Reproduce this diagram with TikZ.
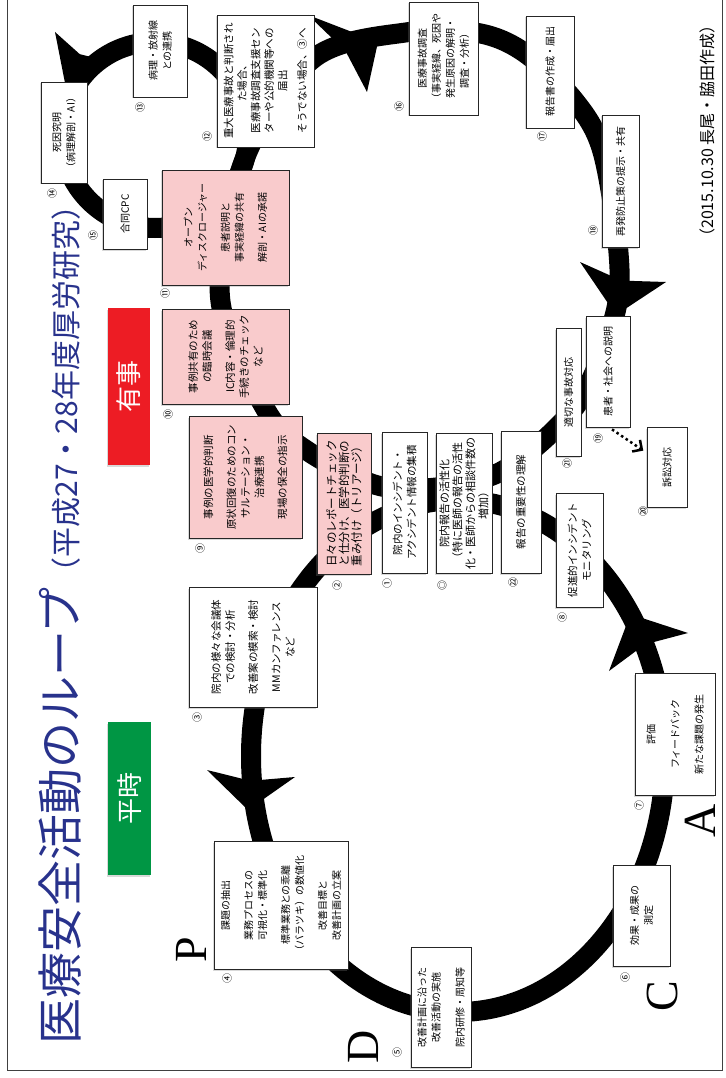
\documentclass[tikz,border=0pt]{standalone}
\usepackage{fontspec}
\setmainfont{Noto Sans CJK JP}
\newfontfamily\pdcafont{Liberation Serif}
\usetikzlibrary{arrows.meta,shadows,calc}
\definecolor{navy}{RGB}{40,50,140}
\definecolor{pinkbox}{RGB}{249,203,204}
\definecolor{redbox}{RGB}{237,28,36}
\definecolor{greenbox}{RGB}{0,150,68}
\pgfdeclarelayer{bg}
\pgfsetlayers{bg,main}
\tikzset{
  ibox/.style={draw=black!85, line width=0.8pt, fill=white, rotate=90, align=center, inner sep=1pt,
    font=\fontsize{10}{14}\selectfont,
    drop shadow={shadow xshift=-1.5pt, shadow yshift=-1.5pt, opacity=0.3}},
  pinkb/.style={ibox, fill=pinkbox},
  numlbl/.style={rotate=90, font=\fontsize{10}{10}\selectfont, inner sep=0pt},
  loopline/.style={line width=20pt, black},
  pdca/.style={rotate=90, font=\pdcafont\fontsize{46}{46}\selectfont, inner sep=0pt},
  modebox/.style={rotate=90, text=white, font=\fontsize{26}{26}\selectfont, inner sep=0pt,
    drop shadow={shadow xshift=-1.5pt, shadow yshift=-1.5pt, opacity=0.3}},
  dotarr/.style={line width=2.5pt, dash pattern=on 2.5pt off 3pt, -{Straight Barb[length=7pt,width=14pt]}},
  star/.style={fill=black}
}
\begin{document}
\begin{tikzpicture}[x=1pt,y=-1pt]
\useasboundingbox (0,0) rectangle (725,1078);
% frame
\draw[black!75, line width=0.8pt] (7,-3) -- (7,1070) -- (722,1070) -- (722,-3);

% title
\node[rotate=90, anchor=base west, inner sep=0pt, text=navy] (title) at (77,1045)
  {\fontsize{46}{46}\selectfont 医療安全活動のループ\fontsize{30}{30}\selectfont（平成27・28年度厚労研究）};
% date
\node[rotate=90, inner sep=0pt, font=\fontsize{16}{16}\selectfont] (date) at (707,131) {（2015.10.30 長尾・脇田作成）};

% mode boxes
\node[modebox, fill=redbox, minimum width=157pt, minimum height=42pt] (yuji) at (129,386.5) {有事};
\node[modebox, fill=greenbox, minimum width=153pt, minimum height=43pt] (heiji) at (129.5,798.5) {平時};

% boxes
\node[ibox, minimum width=92pt, minimum height=54pt] (n13) at (160,51) {病理・放射線\\との連携};
\node[ibox, minimum width=101pt, minimum height=46pt] (n14) at (64,132.5) {死因究明\\（病理解剖・AI）};
\node[ibox, minimum width=70pt, minimum height=44pt] (n15) at (125,214) {合同CPC};
\node[ibox, minimum width=132pt, minimum height=97pt, font=\fontsize{10.5}{13.5}\selectfont] (n12) at (265.5,81)
  {重大医療事故と判断され\\た場合、\\医療事故調査支援セン\\ターや公的機関等への\\届出\\[6pt]そうでない場合、③へ};
\node[pinkb, minimum width=115pt, minimum height=127pt] (n11) at (225.5,227.5)
  {オープン\\ディスクロージャー\\[9pt]患者説明と\\事実経緯の共有\\[9pt]解剖・AIの承諾};
\node[pinkb, minimum width=95pt, minimum height=127pt, font=\fontsize{10.5}{14}\selectfont] (n10) at (225.5,356.5)
  {事例共有のため\\の臨時会議\\[9pt]IC内容・倫理的\\手続きのチェック\\など};
\node[pinkb, minimum width=122pt, minimum height=113pt, font=\fontsize{10.5}{14}\selectfont] (n9) at (245.5,477)
  {事例の医学的判断\\[9pt]原状回復のためのコン\\サルテーション・\\治療連携\\[9pt]現場の保全の指示};
\node[ibox, minimum width=120pt, minimum height=128pt, font=\fontsize{10.5}{14}\selectfont] (n3) at (253,647)
  {院内の様々な会議体\\での検討・分析\\[9pt]改善案の模索・検討\\[9pt]MMカンファレンス\\など};
\node[pinkb, minimum width=141pt, minimum height=54pt, font=\fontsize{11.5}{12.5}\selectfont] (n2) at (344,503.5)
  {日々のレポートチェック\\と仕分け、医学的判断の\\重み付け（トリアージ）};
\node[ibox, minimum width=141pt, minimum height=45pt, font=\fontsize{10.5}{14}\selectfont] (n1) at (404.5,502.5)
  {院内のインシデント・\\アクシデント情報の集積};
\node[ibox, minimum width=140pt, minimum height=56pt, font=\fontsize{11}{13}\selectfont] (n0) at (464,503)
  {院内報告の活性化\\（特に医師の報告の活性\\化・医師からの相談件数の\\増加）};
\node[ibox, minimum width=142pt, minimum height=40pt, font=\fontsize{10.5}{14}\selectfont] (n22) at (521,502) {報告の重要性の理解};
\node[ibox, minimum width=114pt, minimum height=47pt, font=\fontsize{10.5}{14}\selectfont] (n8) at (579.5,550) {促進的インシデント\\モニタリング};
\node[ibox, minimum width=128pt, minimum height=25pt] (n21) at (568.5,392) {適切な事故対応};
\node[ibox, minimum width=111pt, minimum height=44pt] (n19) at (608,371.5) {患者・社会への説明};
\node[ibox, minimum width=80pt, minimum height=40pt] (n20) at (667,467) {訴訟対応};
\node[ibox, minimum width=113pt, minimum height=69pt] (n16) at (443.5,58.5)
  {医療事故調査\\（事実経緯、死因や\\発生原因の解明・\\調査・分析）};
\node[ibox, minimum width=112pt, minimum height=48pt] (n17) at (550,72) {報告書の作成・届出};
\node[ibox, minimum width=132pt, minimum height=37pt] (n18) at (620.5,181) {再発防止策の提示・共有};
\node[ibox, minimum width=122pt, minimum height=80pt] (n7) at (675,734) {評価\\[10pt]フィードバック\\[10pt]新たな課題の発生};
\node[ibox, minimum width=101pt, minimum height=57pt] (n6) at (641.5,915.5) {効果・成果の\\測定};
\node[ibox, minimum width=120pt, minimum height=60pt] (n5) at (441,1007) {改善計画に沿った\\改善活動の実施\\[10pt]院内研修・周知等};
\node[ibox, minimum width=128pt, minimum height=134pt] (n4) at (281,905)
  {課題の抽出\\[9pt]業務プロセスの\\可視化・標準化\\[9pt]標準業務との乖離\\（バラツキ）の数値化\\[9pt]改善目標と\\改善計画の立案};

% number labels
\node[numlbl] (l13) at (140,108) {⑬};
\node[numlbl] (l14) at (52,193) {⑭};
\node[numlbl] (l15) at (93,235) {⑮};
\node[numlbl] (l12) at (207,137) {⑫};
\node[numlbl] (l11) at (165,293) {⑪};
\node[numlbl] (l10) at (168,414) {⑩};
\node[numlbl] (l9) at (200,548) {⑨};
\node[numlbl] (l3) at (197,717) {③};
\node[numlbl] (l2) at (337,585) {②};
\node[numlbl] (l1) at (387,583) {①};
\node[numlbl] (l0) at (442,585) {◎};
\node[numlbl] (l22) at (513,582) {㉒};
\node[numlbl] (l8) at (562,617) {⑧};
\node[numlbl] (l21) at (567,463) {㉑};
\node[numlbl] (l19) at (598,438) {⑲};
\node[numlbl] (l20) at (643,511) {⑳};
\node[numlbl] (l16) at (399,107) {⑯};
\node[numlbl] (l17) at (542,137) {⑰};
\node[numlbl] (l18) at (593,230) {⑱};
\node[numlbl] (l7) at (639,805) {⑦};
\node[numlbl] (l6) at (625,977) {⑥};
\node[numlbl] (l5) at (397,1052) {⑤};
\node[numlbl] (l4) at (227,978) {④};

% PDCA letters
\node[pdca] (lp) at (191,950) {P};
\node[pdca] (ld) at (363,1047) {D};
\node[pdca] (lc) at (662,996) {C};
\node[pdca] (la) at (700,821) {A};

% dotted arrow
\draw[dotarr, shorten >=4pt] ($(n19.west)+(4,2)$) -- ($(n20.north east)!0.65!(n20.north)$);

% loops and arrowheads
\begin{pgfonlayer}{bg}
\coordinate (bc) at (458,756);
\draw[loopline] (bc) ellipse [x radius=207pt, y radius=256pt];
\coordinate (sc) at (155,135);
\draw[loopline] (sc) circle [radius=93pt];
\draw[loopline] plot[smooth cycle, tension=0.55] coordinates {(314,58) (409,32) (478,33) (525,53) (574,100) (602,150) (618,247) (616,310) (586,390) (548,436) (496,474) (431,488) (376,485) (309,452) (266,410) (220,297) (245,158)};
\fill[star] (248,810) -- (207,770) -- (250.4,780.8) -- (295,777) -- cycle;
\fill[star] (616,315) -- (580,262) -- (621.6,280.6) -- (666,282) -- cycle;
\fill[star] (630.4,614.2) -- (609,671) -- (644.9,644.4) -- (688,633) -- cycle;
\fill[star] (378,42) -- (308,15) -- (345.6,51.2) -- (367,92) -- cycle;
\fill[star] (65,83) -- (55,32) -- (79.8,54.2) -- (112,62) -- cycle;
\end{pgfonlayer}
\end{tikzpicture}
\end{document}
